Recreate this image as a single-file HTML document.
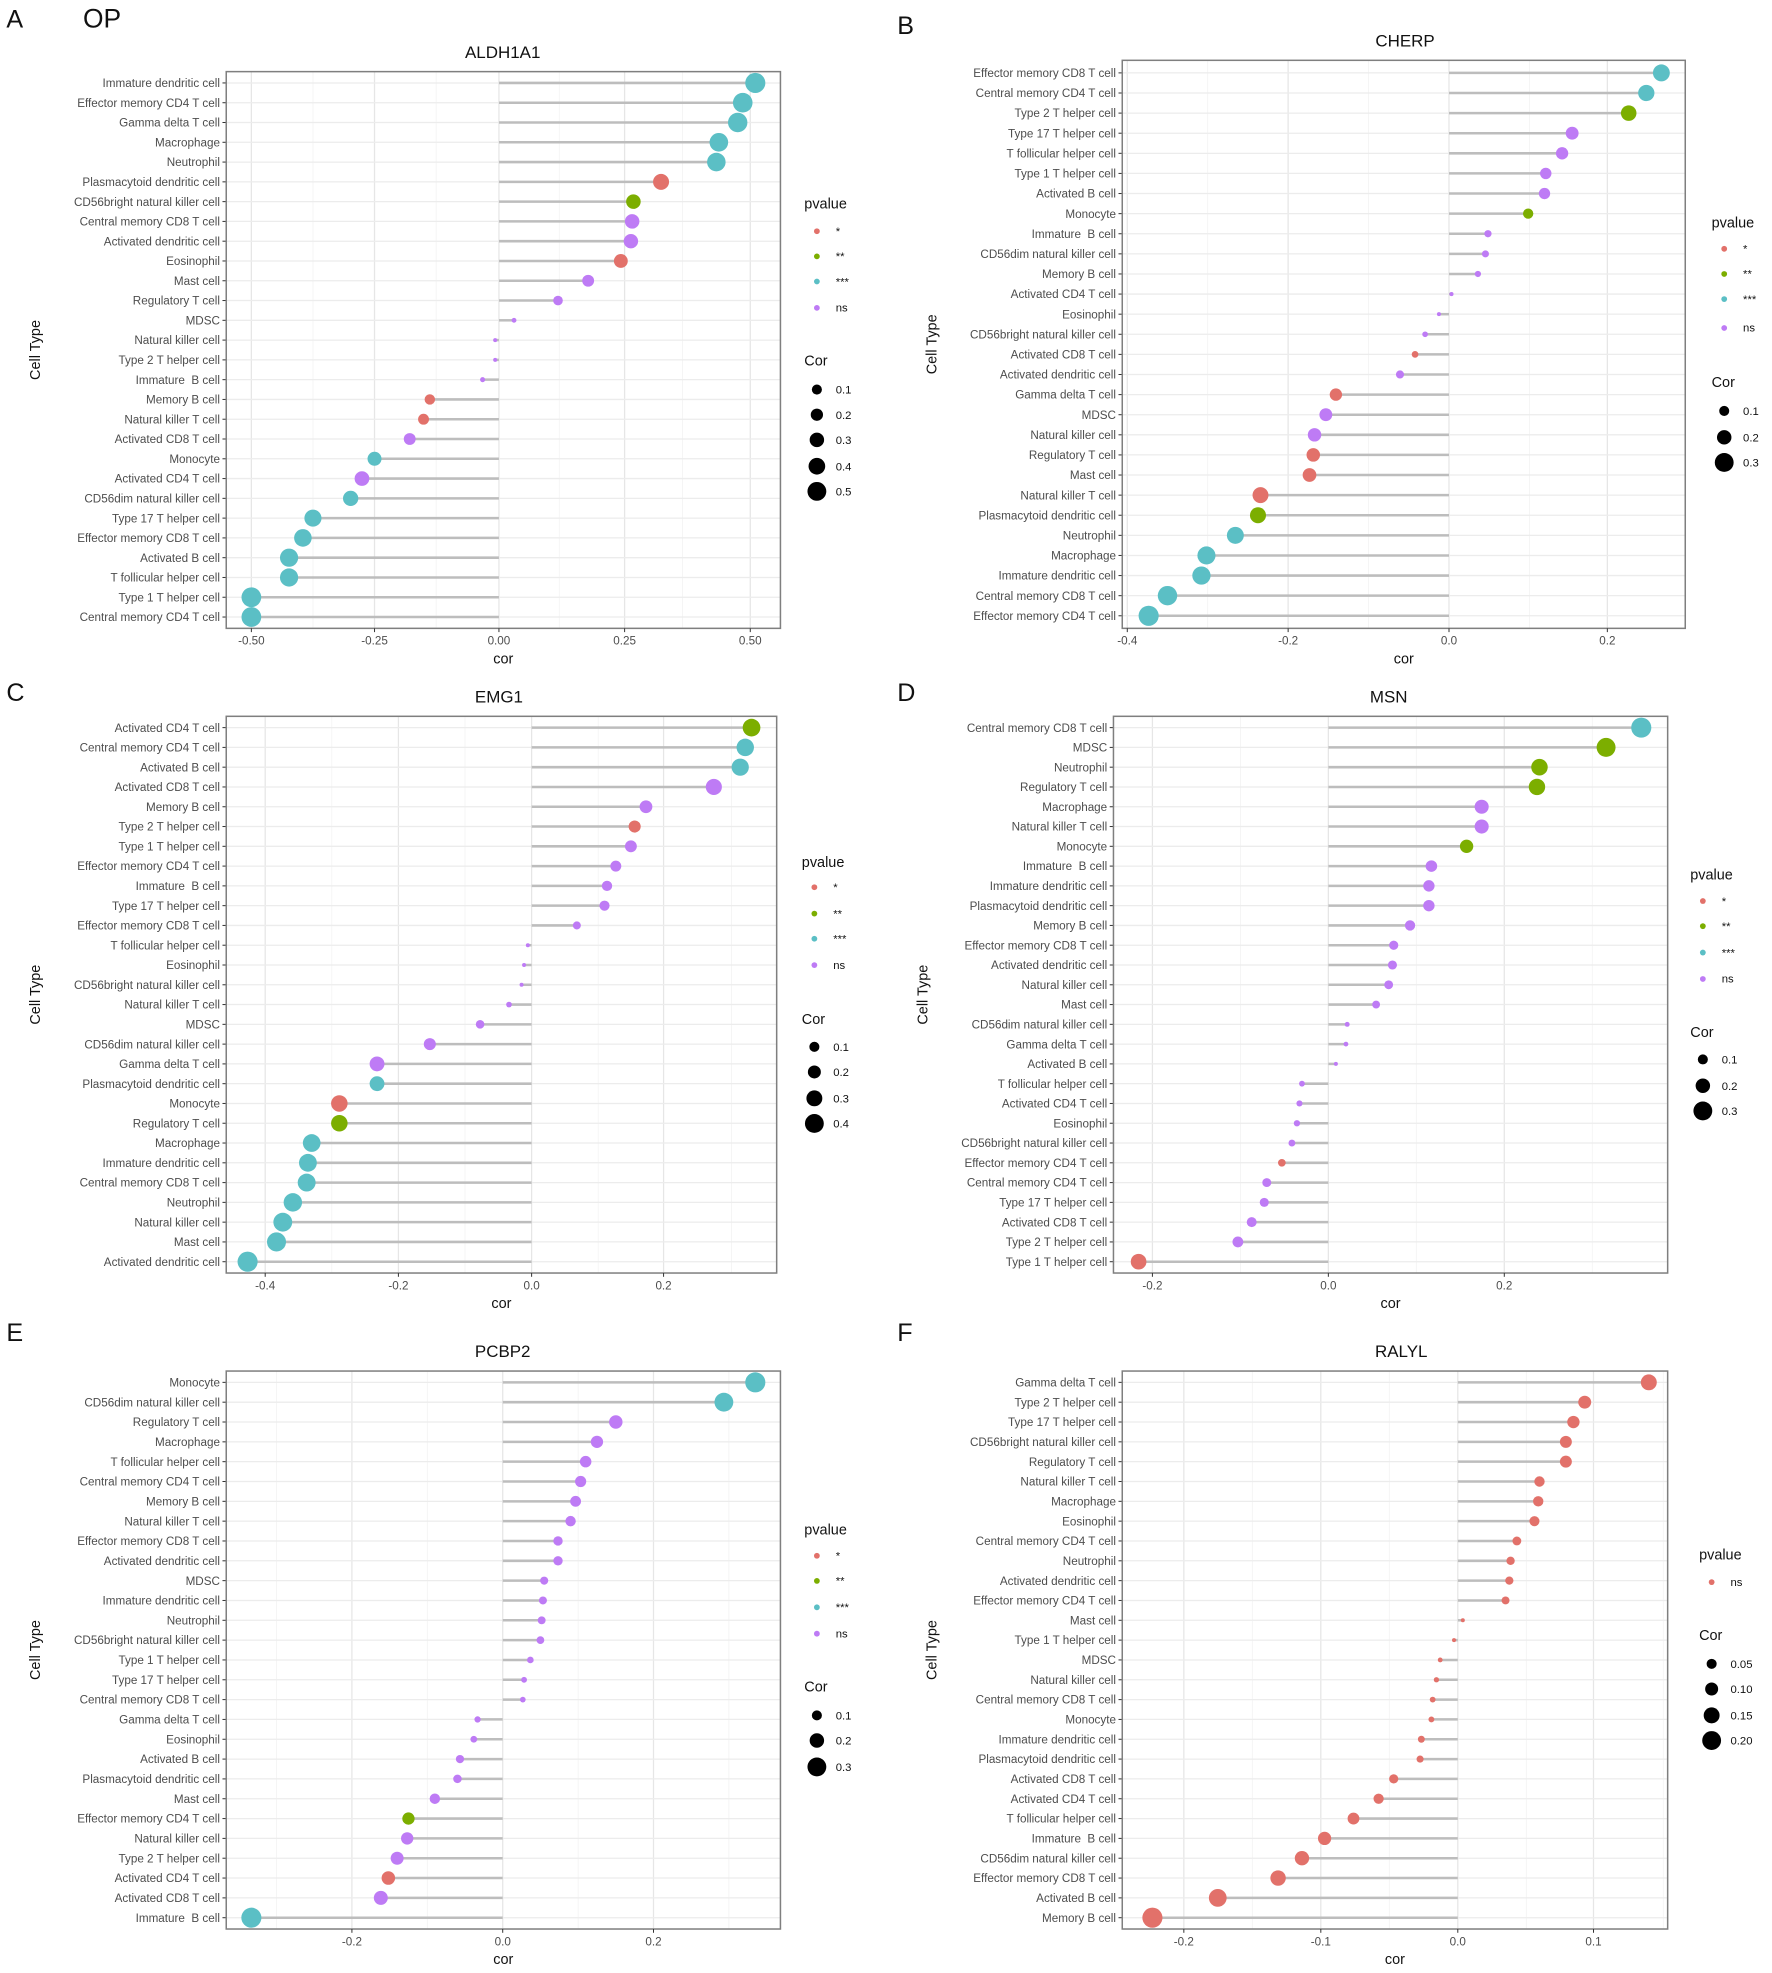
<!DOCTYPE html>
<html><head><meta charset="utf-8"><style>
html,body{margin:0;padding:0;background:#fff;}
svg{display:block;font-family:"Liberation Sans",Arial,sans-serif;}
</style></head><body>
<svg id="s" width="1772" height="1973" viewBox="0 0 1410 1570" xmlns="http://www.w3.org/2000/svg"></svg>
<script>
const C={r:"#E2716A",g:"#7CAE00",c:"#5BBFC5",p:"#BE7BF5"};
const panels=[
{letter:"A",lx:5,ly:22,title:"ALDH1A1",tx:400,ty:46,x0:180,x1:621,y0:57,y1:500,r0:66,r1:491,zero:397,ticks:[[200,"-0.50"],[298,"-0.25"],[397,"0.00"],[497,"0.25"],[597,"0.50"]],
 leg:640,pv:[162,184,204,224,245],cor:[287,310,330,350,371,391],corl:["0.1","0.2","0.3","0.4","0.5"],pvl:["*","**","***","ns"],pvc:["r","g","c","p"],rmax:8,
 d:[["Immature dendritic cell",601,"c"],["Effector memory CD4 T cell",591,"c"],["Gamma delta T cell",587,"c"],["Macrophage",572,"c"],["Neutrophil",570,"c"],["Plasmacytoid dendritic cell",526,"r"],["CD56bright natural killer cell",504,"g"],["Central memory CD8 T cell",503,"p"],["Activated dendritic cell",502,"p"],["Eosinophil",494,"r"],["Mast cell",468,"p"],["Regulatory T cell",444,"p"],["MDSC",409,"p"],["Natural killer cell",394,"p"],["Type 2 T helper cell",394,"p"],["Immature  B cell",384,"p"],["Memory B cell",342,"r"],["Natural killer T cell",337,"r"],["Activated CD8 T cell",326,"p"],["Monocyte",298,"c"],["Activated CD4 T cell",288,"p"],["CD56dim natural killer cell",279,"c"],["Type 17 T helper cell",249,"c"],["Effector memory CD8 T cell",241,"c"],["Activated B cell",230,"c"],["T follicular helper cell",230,"c"],["Type 1 T helper cell",200,"c"],["Central memory CD4 T cell",200,"c"]]},
{letter:"B",lx:714,ly:27,title:"CHERP",tx:1118,ty:37,x0:893,x1:1341,y0:48,y1:500,r0:58,r1:490,zero:1153,ticks:[[897,"-0.4"],[1025,"-0.2"],[1153,"0.0"],[1279,"0.2"]],
 leg:1362,pv:[177,198,218,238,261],cor:[304,327,348,368],corl:["0.1","0.2","0.3"],pvl:["*","**","***","ns"],pvc:["r","g","c","p"],rmax:8,
 d:[["Effector memory CD8 T cell",1322,"c"],["Central memory CD4 T cell",1310,"c"],["Type 2 T helper cell",1296,"g"],["Type 17 T helper cell",1251,"p"],["T follicular helper cell",1243,"p"],["Type 1 T helper cell",1230,"p"],["Activated B cell",1229,"p"],["Monocyte",1216,"g"],["Immature  B cell",1184,"p"],["CD56dim natural killer cell",1182,"p"],["Memory B cell",1176,"p"],["Activated CD4 T cell",1155,"p"],["Eosinophil",1145,"p"],["CD56bright natural killer cell",1134,"p"],["Activated CD8 T cell",1126,"r"],["Activated dendritic cell",1114,"p"],["Gamma delta T cell",1063,"r"],["MDSC",1055,"p"],["Natural killer cell",1046,"p"],["Regulatory T cell",1045,"r"],["Mast cell",1042,"r"],["Natural killer T cell",1003,"r"],["Plasmacytoid dendritic cell",1001,"g"],["Neutrophil",983,"c"],["Macrophage",960,"c"],["Immature dendritic cell",956,"c"],["Central memory CD8 T cell",929,"c"],["Effector memory CD4 T cell",914,"c"]]},
{letter:"C",lx:5,ly:558,title:"EMG1",tx:397,ty:559,x0:180,x1:618,y0:570,y1:1013,r0:579,r1:1004,zero:423,ticks:[[211,"-0.4"],[317,"-0.2"],[423,"0.0"],[528,"0.2"]],
 leg:638,pv:[686,706,727,747,768],cor:[811,833,853,874,894],corl:["0.1","0.2","0.3","0.4"],pvl:["*","**","***","ns"],pvc:["r","g","c","p"],rmax:8,
 d:[["Activated CD4 T cell",598,"g"],["Central memory CD4 T cell",593,"c"],["Activated B cell",589,"c"],["Activated CD8 T cell",568,"p"],["Memory B cell",514,"p"],["Type 2 T helper cell",505,"r"],["Type 1 T helper cell",502,"p"],["Effector memory CD4 T cell",490,"p"],["Immature  B cell",483,"p"],["Type 17 T helper cell",481,"p"],["Effector memory CD8 T cell",459,"p"],["T follicular helper cell",420,"p"],["Eosinophil",417,"p"],["CD56bright natural killer cell",415,"p"],["Natural killer T cell",405,"p"],["MDSC",382,"p"],["CD56dim natural killer cell",342,"p"],["Gamma delta T cell",300,"p"],["Plasmacytoid dendritic cell",300,"c"],["Monocyte",270,"r"],["Regulatory T cell",270,"g"],["Macrophage",248,"c"],["Immature dendritic cell",245,"c"],["Central memory CD8 T cell",244,"c"],["Neutrophil",233,"c"],["Natural killer cell",225,"c"],["Mast cell",220,"c"],["Activated dendritic cell",197,"c"]]},
{letter:"D",lx:714,ly:558,title:"MSN",tx:1105,ty:559,x0:886,x1:1327,y0:570,y1:1013,r0:579,r1:1004,zero:1057,ticks:[[917,"-0.2"],[1057,"0.0"],[1197,"0.2"]],
 leg:1345,pv:[696,717,737,758,779],cor:[821,843,864,884],corl:["0.1","0.2","0.3"],pvl:["*","**","***","ns"],pvc:["r","g","c","p"],rmax:8,
 d:[["Central memory CD8 T cell",1306,"c"],["MDSC",1278,"g"],["Neutrophil",1225,"g"],["Regulatory T cell",1223,"g"],["Macrophage",1179,"p"],["Natural killer T cell",1179,"p"],["Monocyte",1167,"g"],["Immature  B cell",1139,"p"],["Immature dendritic cell",1137,"p"],["Plasmacytoid dendritic cell",1137,"p"],["Memory B cell",1122,"p"],["Effector memory CD8 T cell",1109,"p"],["Activated dendritic cell",1108,"p"],["Natural killer cell",1105,"p"],["Mast cell",1095,"p"],["CD56dim natural killer cell",1072,"p"],["Gamma delta T cell",1071,"p"],["Activated B cell",1063,"p"],["T follicular helper cell",1036,"p"],["Activated CD4 T cell",1034,"p"],["Eosinophil",1032,"p"],["CD56bright natural killer cell",1028,"p"],["Effector memory CD4 T cell",1020,"r"],["Central memory CD4 T cell",1008,"p"],["Type 17 T helper cell",1006,"p"],["Activated CD8 T cell",996,"p"],["Type 2 T helper cell",985,"p"],["Type 1 T helper cell",906,"r"]]},
{letter:"E",lx:5,ly:1067,title:"PCBP2",tx:400,ty:1080,x0:180,x1:621,y0:1091,y1:1535,r0:1100,r1:1526,zero:400,ticks:[[280,"-0.2"],[400,"0.0"],[520,"0.2"]],
 leg:640,pv:[1217,1238,1258,1279,1300],cor:[1342,1365,1385,1406],corl:["0.1","0.2","0.3"],pvl:["*","**","***","ns"],pvc:["r","g","c","p"],rmax:8,
 d:[["Monocyte",601,"c"],["CD56dim natural killer cell",576,"c"],["Regulatory T cell",490,"p"],["Macrophage",475,"p"],["T follicular helper cell",466,"p"],["Central memory CD4 T cell",462,"p"],["Memory B cell",458,"p"],["Natural killer T cell",454,"p"],["Effector memory CD8 T cell",444,"p"],["Activated dendritic cell",444,"p"],["MDSC",433,"p"],["Immature dendritic cell",432,"p"],["Neutrophil",431,"p"],["CD56bright natural killer cell",430,"p"],["Type 1 T helper cell",422,"p"],["Type 17 T helper cell",417,"p"],["Central memory CD8 T cell",416,"p"],["Gamma delta T cell",380,"p"],["Eosinophil",377,"p"],["Activated B cell",366,"p"],["Plasmacytoid dendritic cell",364,"p"],["Mast cell",346,"p"],["Effector memory CD4 T cell",325,"g"],["Natural killer cell",324,"p"],["Type 2 T helper cell",316,"p"],["Activated CD4 T cell",309,"r"],["Activated CD8 T cell",303,"p"],["Immature  B cell",200,"c"]]},
{letter:"F",lx:714,ly:1067,title:"RALYL",tx:1115,ty:1080,x0:893,x1:1327,y0:1091,y1:1535,r0:1100,r1:1526,zero:1160,ticks:[[942,"-0.2"],[1051,"-0.1"],[1160,"0.0"],[1268,"0.1"]],
 leg:1352,pv:[1237,1259],cor:[1301,1324,1344,1365,1385],corl:["0.05","0.10","0.15","0.20"],pvl:["ns"],pvc:["r"],rmax:8,
 d:[["Gamma delta T cell",1312,"r"],["Type 2 T helper cell",1261,"r"],["Type 17 T helper cell",1252,"r"],["CD56bright natural killer cell",1246,"r"],["Regulatory T cell",1246,"r"],["Natural killer T cell",1225,"r"],["Macrophage",1224,"r"],["Eosinophil",1221,"r"],["Central memory CD4 T cell",1207,"r"],["Neutrophil",1202,"r"],["Activated dendritic cell",1201,"r"],["Effector memory CD4 T cell",1198,"r"],["Mast cell",1164,"r"],["Type 1 T helper cell",1157,"r"],["MDSC",1146,"r"],["Natural killer cell",1143,"r"],["Central memory CD8 T cell",1140,"r"],["Monocyte",1139,"r"],["Immature dendritic cell",1131,"r"],["Plasmacytoid dendritic cell",1130,"r"],["Activated CD8 T cell",1109,"r"],["Activated CD4 T cell",1097,"r"],["T follicular helper cell",1077,"r"],["Immature  B cell",1054,"r"],["CD56dim natural killer cell",1036,"r"],["Effector memory CD8 T cell",1017,"r"],["Activated B cell",969,"r"],["Memory B cell",917,"r"]]}
];
let o='';
o+='<text x="66" y="22" font-size="21" fill="#111">OP</text>';
for(const P of panels){
 o+=`<text x="${P.lx}" y="${P.ly}" font-size="20" fill="#111">${P.letter}</text>`;
 o+=`<text x="${P.tx}" y="${P.ty}" font-size="13.5" text-anchor="middle" fill="#111">${P.title}</text>`;
 o+=`<rect x="${P.x0}" y="${P.y0}" width="${P.x1-P.x0}" height="${P.y1-P.y0}" fill="#fff"/>`;
 const t=P.ticks, step=t[1][0]-t[0][0];
 // minor grid
 for(let x=t[0][0]-step*1.5;x<P.x1;x+=step){ if(x>P.x0) o+=`<line x1="${x}" y1="${P.y0}" x2="${x}" y2="${P.y1}" stroke="#f2f2f2" stroke-width="0.6"/>`; }
 for(const [x] of t) o+=`<line x1="${x}" y1="${P.y0}" x2="${x}" y2="${P.y1}" stroke="#e6e6e6" stroke-width="1"/>`;
 const n=P.d.length, sp=(P.r1-P.r0)/(n-1);
 const maxd=Math.max(...P.d.map(e=>Math.abs(e[1]-P.zero)));
 P.d.forEach((e,i)=>{const y=P.r0+i*sp;
  o+=`<line x1="${P.x0}" y1="${y}" x2="${P.x1}" y2="${y}" stroke="#ececec" stroke-width="1"/>`;});
 P.d.forEach((e,i)=>{const y=P.r0+i*sp;
  o+=`<line x1="${P.zero}" y1="${y}" x2="${e[1]}" y2="${y}" stroke="#bdbdbd" stroke-width="2"/>`;
  const r=Math.max(1.6,P.rmax*Math.sqrt(Math.abs(e[1]-P.zero)/maxd));
  o+=`<circle cx="${e[1]}" cy="${y}" r="${r.toFixed(2)}" fill="${C[e[2]]}"/>`;
  o+=`<line x1="${P.x0-3}" y1="${y}" x2="${P.x0}" y2="${y}" stroke="#333" stroke-width="0.8"/>`;
  o+=`<text x="${P.x0-5}" y="${y+3.3}" font-size="9.3" text-anchor="end" fill="#4d4d4d">${e[0].replace(/  /,'&#160; ')}</text>`;});
 o+=`<rect x="${P.x0}" y="${P.y0}" width="${P.x1-P.x0}" height="${P.y1-P.y0}" fill="none" stroke="#7f7f7f" stroke-width="1.2"/>`;
 for(const [x,l] of t){o+=`<line x1="${x}" y1="${P.y1}" x2="${x}" y2="${P.y1+3}" stroke="#333" stroke-width="0.8"/>`;
  o+=`<text x="${x}" y="${P.y1+13}" font-size="9.3" text-anchor="middle" fill="#4d4d4d">${l}</text>`;}
 o+=`<text x="${(P.x0+P.x1)/2}" y="${P.y1+28}" font-size="11.5" text-anchor="middle" fill="#111">cor</text>`;
 const cy=(P.y0+P.y1)/2;
 o+=`<text x="${P.x0-148}" y="${cy}" font-size="11.5" text-anchor="middle" fill="#111" transform="rotate(-90 ${P.x0-148} ${cy})">Cell Type</text>`;
 // legends
 o+=`<text x="${P.leg}" y="${P.pv[0]+4}" font-size="11.5" fill="#111">pvalue</text>`;
 P.pvl.forEach((l,i)=>{const y=P.pv[i+1];o+=`<circle cx="${P.leg+10}" cy="${y}" r="2.3" fill="${C[P.pvc[i]]}"/><text x="${P.leg+25}" y="${y+3}" font-size="9" fill="#111">${l}</text>`;});
 o+=`<text x="${P.leg}" y="${P.cor[0]+4}" font-size="11.5" fill="#111">Cor</text>`;
 const k=P.corl.length;
 P.corl.forEach((l,i)=>{const y=P.cor[i+1];const r=4+3.5*(i/(Math.max(k-1,1)));o+=`<circle cx="${P.leg+10}" cy="${y}" r="${r.toFixed(2)}" fill="#000"/><text x="${P.leg+25}" y="${y+3.3}" font-size="9" fill="#111">${l}</text>`;});
}
document.getElementById('s').innerHTML=o;
</script>
</body></html>
